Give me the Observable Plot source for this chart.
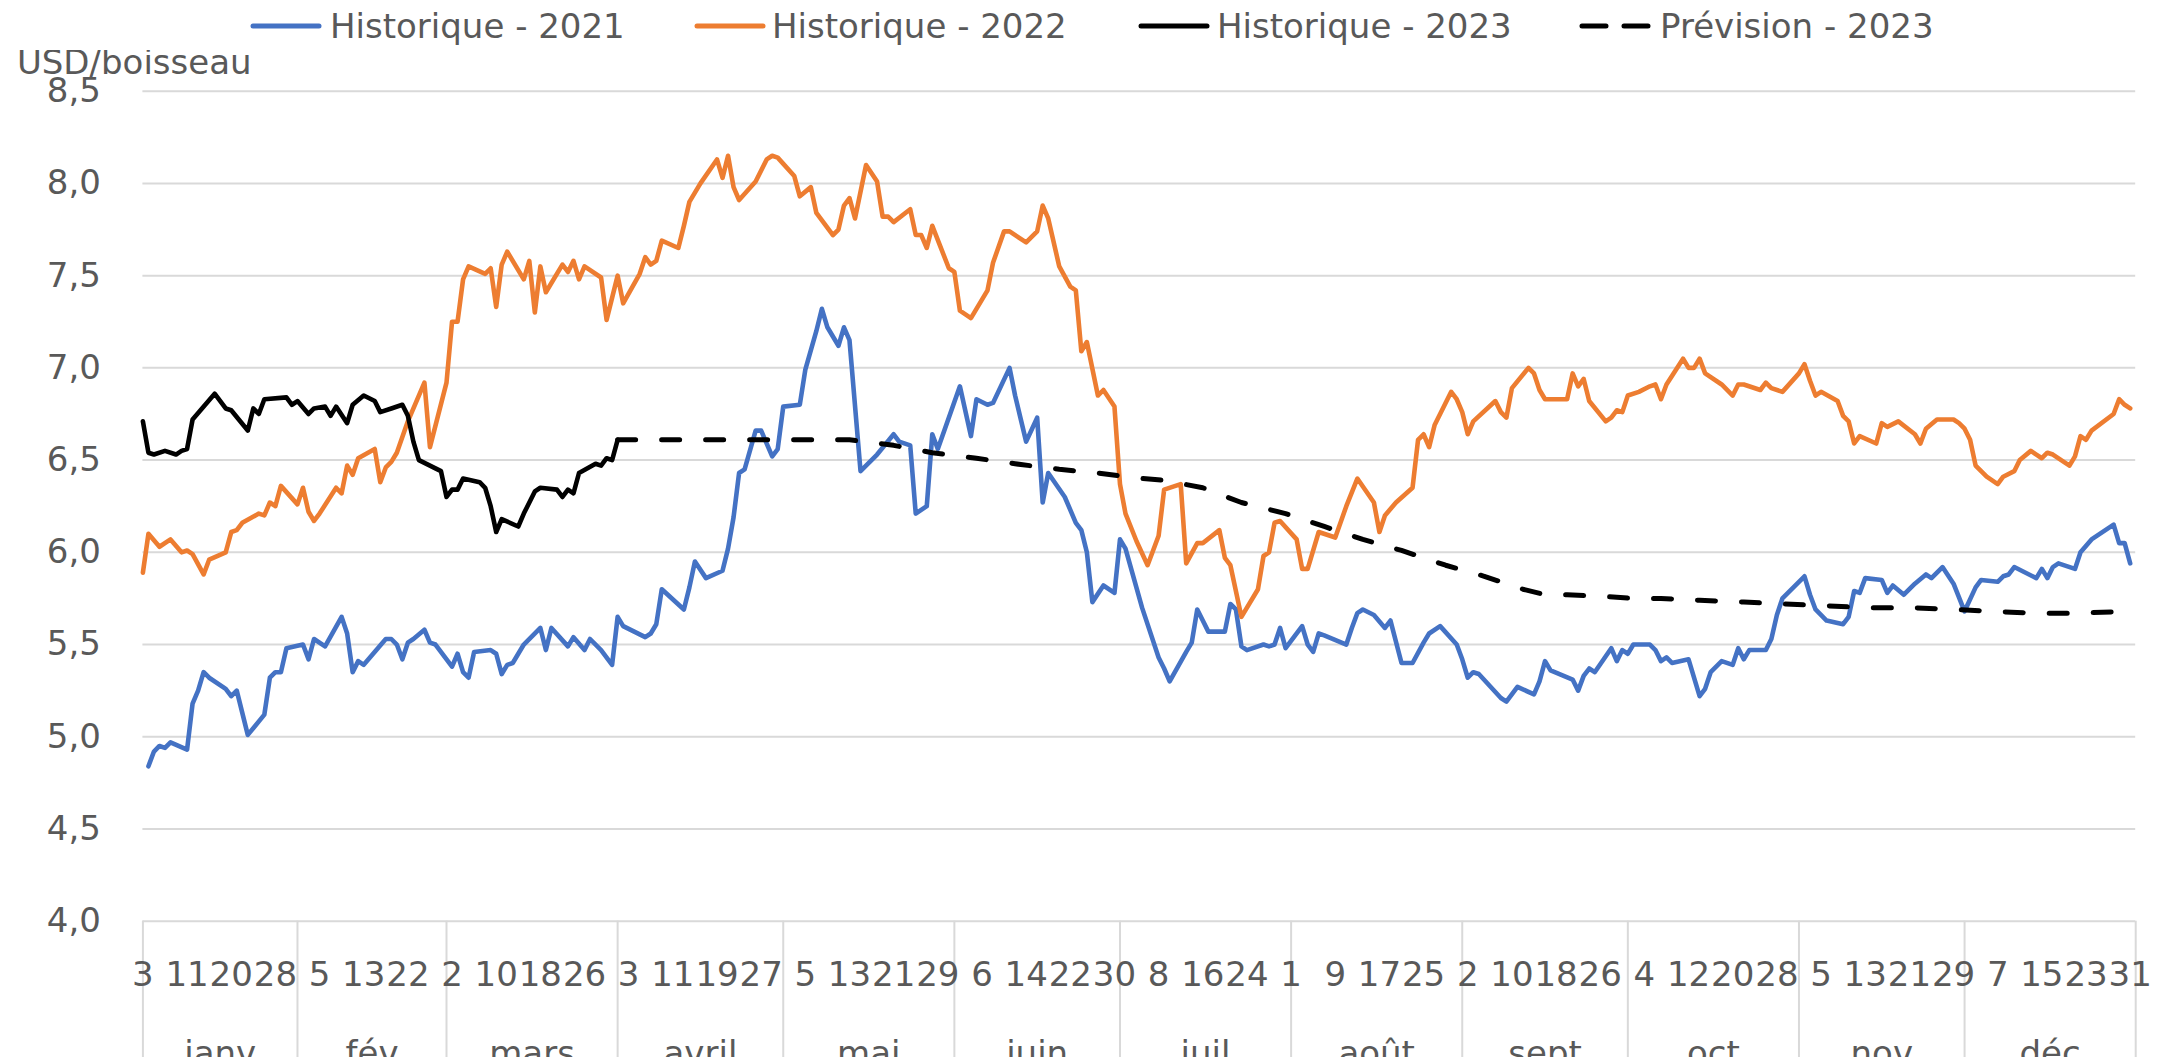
<!DOCTYPE html>
<html><head><meta charset="utf-8">
<script src="https://cdn.jsdelivr.net/npm/d3@7"></script>
<script src="https://cdn.jsdelivr.net/npm/@observablehq/plot@0.6"></script>
<style>
body{margin:0;background:#fff;font-family:"DejaVu Sans",sans-serif;}
#chart svg{display:block}
</style></head><body>
<div id="chart"></div>
<script>
// ---- categories: one per calendar day, 3 janv. -> 31 déc. (two market holidays absent)
const missingDays = ["2023-01-16", "2023-02-20"];
const monthNames = ["janv", "fév", "mars", "avril", "mai", "juin", "juil", "août", "sept", "oct", "nov", "déc"];
const yTicks = [4, 4.5, 5, 5.5, 6, 6.5, 7, 7.5, 8, 8.5];
const seriesNames = ["Historique - 2021", "Historique - 2022", "Historique - 2023", "Prévision - 2023"];
const seriesColors = ["#4472C4", "#ED7D31", "#000000", "#000000"];

// ---- series: [category index (0 = 3 janv.), USD/boisseau]
const hist2021 = [[1,4.84],[2,4.92],[3,4.95],[4,4.94],[5,4.97],[8,4.93],[9,5.18],[10,5.25],[11,5.35],[12,5.32],[15,5.26],[16,5.22],[17,5.25],[19,5.01],[22,5.12],[23,5.32],[24,5.35],[25,5.35],[26,5.48],[29,5.50],[30,5.42],[31,5.53],[33,5.49],[36,5.65],[37,5.56],[38,5.35],[39,5.41],[40,5.39],[44,5.53],[45,5.53],[46,5.50],[47,5.42],[48,5.51],[49,5.53],[51,5.58],[52,5.51],[53,5.50],[56,5.38],[57,5.45],[58,5.35],[59,5.32],[60,5.46],[63,5.47],[64,5.45],[65,5.34],[66,5.39],[67,5.40],[69,5.50],[72,5.59],[73,5.47],[74,5.59],[77,5.49],[78,5.54],[80,5.47],[81,5.53],[83,5.47],[85,5.39],[86,5.65],[87,5.60],[91,5.54],[92,5.56],[93,5.61],[94,5.80],[98,5.69],[99,5.81],[100,5.95],[102,5.86],[105,5.90],[106,6.02],[107,6.19],[108,6.43],[109,6.45],[111,6.66],[112,6.66],[114,6.52],[115,6.56],[116,6.79],[119,6.80],[120,6.99],[122,7.20],[123,7.32],[124,7.22],[126,7.12],[127,7.22],[128,7.15],[130,6.44],[133,6.53],[136,6.64],[137,6.60],[139,6.58],[140,6.21],[142,6.25],[143,6.64],[144,6.56],[148,6.90],[150,6.63],[151,6.83],[153,6.80],[154,6.81],[157,7.00],[158,6.85],[160,6.60],[162,6.73],[163,6.27],[164,6.43],[167,6.30],[169,6.16],[170,6.12],[171,6.00],[172,5.73],[174,5.82],[176,5.78],[177,6.07],[178,6.02],[181,5.70],[184,5.43],[185,5.37],[186,5.30],[189,5.46],[190,5.51],[191,5.69],[192,5.63],[193,5.57],[196,5.57],[197,5.72],[198,5.69],[199,5.49],[200,5.47],[203,5.50],[204,5.49],[205,5.50],[206,5.59],[207,5.48],[210,5.60],[211,5.50],[212,5.46],[213,5.56],[214,5.55],[218,5.50],[219,5.59],[220,5.67],[221,5.69],[223,5.66],[225,5.59],[226,5.63],[228,5.40],[230,5.40],[232,5.51],[233,5.56],[235,5.60],[238,5.50],[239,5.42],[240,5.32],[241,5.35],[242,5.34],[246,5.21],[247,5.19],[249,5.27],[252,5.23],[253,5.30],[254,5.41],[255,5.36],[259,5.31],[260,5.25],[261,5.33],[262,5.37],[263,5.35],[266,5.48],[267,5.41],[268,5.47],[269,5.45],[270,5.50],[273,5.50],[274,5.47],[275,5.41],[276,5.43],[277,5.40],[280,5.42],[282,5.22],[283,5.26],[284,5.35],[286,5.41],[288,5.39],[289,5.48],[290,5.42],[291,5.47],[294,5.47],[295,5.53],[296,5.66],[297,5.75],[301,5.87],[302,5.77],[303,5.69],[305,5.63],[308,5.61],[309,5.65],[310,5.79],[311,5.78],[312,5.86],[315,5.85],[316,5.78],[317,5.82],[319,5.77],[321,5.83],[323,5.88],[324,5.86],[326,5.92],[328,5.83],[330,5.68],[332,5.81],[333,5.85],[336,5.84],[337,5.87],[338,5.88],[339,5.92],[343,5.86],[344,5.91],[345,5.86],[346,5.92],[347,5.94],[350,5.91],[351,6.00],[353,6.07],[357,6.15],[358,6.05],[359,6.05],[360,5.94]];

const hist2022 = [[0,5.89],[1,6.10],[3,6.03],[5,6.07],[7,6.00],[8,6.01],[9,5.99],[11,5.88],[12,5.96],[15,6.00],[16,6.11],[17,6.12],[18,6.16],[21,6.21],[22,6.20],[23,6.27],[24,6.25],[25,6.36],[28,6.26],[29,6.35],[30,6.22],[31,6.17],[32,6.21],[35,6.35],[36,6.32],[37,6.47],[38,6.42],[39,6.51],[42,6.56],[43,6.38],[44,6.46],[45,6.49],[46,6.54],[48,6.71],[51,6.92],[52,6.57],[55,6.92],[56,7.25],[57,7.25],[58,7.48],[59,7.55],[62,7.51],[63,7.54],[64,7.33],[65,7.56],[66,7.63],[69,7.48],[70,7.58],[71,7.30],[72,7.55],[73,7.41],[76,7.56],[77,7.52],[78,7.58],[79,7.48],[80,7.55],[83,7.49],[84,7.26],[86,7.50],[87,7.35],[90,7.51],[91,7.60],[92,7.56],[93,7.58],[94,7.69],[97,7.65],[98,7.77],[99,7.90],[101,8.00],[104,8.13],[105,8.03],[106,8.15],[107,7.98],[108,7.91],[111,8.01],[113,8.13],[114,8.15],[115,8.14],[118,8.04],[119,7.93],[121,7.98],[122,7.84],[125,7.72],[126,7.75],[127,7.88],[128,7.92],[129,7.81],[131,8.10],[133,8.01],[134,7.82],[135,7.82],[136,7.79],[139,7.86],[140,7.72],[141,7.72],[142,7.65],[143,7.77],[146,7.54],[147,7.52],[148,7.31],[150,7.27],[153,7.42],[154,7.57],[156,7.74],[157,7.74],[160,7.68],[162,7.74],[163,7.88],[164,7.81],[166,7.55],[168,7.44],[169,7.42],[170,7.09],[171,7.14],[173,6.85],[174,6.88],[176,6.79],[177,6.37],[178,6.21],[180,6.06],[182,5.93],[184,6.09],[185,6.34],[188,6.37],[189,5.94],[191,6.05],[192,6.05],[195,6.12],[196,5.97],[197,5.93],[199,5.65],[202,5.80],[203,5.98],[204,6.00],[205,6.16],[206,6.17],[209,6.07],[210,5.91],[211,5.91],[213,6.11],[216,6.08],[218,6.25],[220,6.40],[223,6.27],[224,6.11],[225,6.20],[227,6.27],[230,6.35],[231,6.61],[232,6.64],[233,6.57],[234,6.69],[237,6.87],[238,6.83],[239,6.76],[240,6.64],[241,6.71],[245,6.82],[246,6.76],[247,6.73],[248,6.89],[251,7.00],[252,6.97],[253,6.88],[254,6.83],[258,6.83],[259,6.97],[260,6.90],[261,6.94],[262,6.82],[265,6.71],[266,6.73],[267,6.77],[268,6.76],[269,6.85],[271,6.87],[273,6.90],[274,6.91],[275,6.83],[276,6.91],[279,7.05],[280,7.00],[281,7.00],[282,7.05],[283,6.97],[286,6.91],[288,6.85],[289,6.91],[290,6.91],[293,6.88],[294,6.92],[295,6.89],[297,6.87],[300,6.97],[301,7.02],[302,6.93],[303,6.85],[304,6.87],[307,6.82],[308,6.74],[309,6.71],[310,6.59],[311,6.63],[314,6.59],[315,6.70],[316,6.68],[318,6.71],[321,6.64],[322,6.59],[323,6.67],[325,6.72],[328,6.72],[329,6.70],[330,6.67],[331,6.61],[332,6.47],[334,6.41],[336,6.37],[337,6.41],[339,6.44],[340,6.50],[342,6.55],[343,6.53],[344,6.51],[345,6.54],[346,6.53],[349,6.47],[350,6.52],[351,6.63],[352,6.61],[353,6.66],[357,6.75],[358,6.83],[359,6.80],[360,6.78]];

const hist2023 = [[0,6.71],[1,6.54],[2,6.53],[4,6.55],[6,6.53],[7,6.55],[8,6.56],[9,6.72],[13,6.86],[15,6.78],[16,6.77],[19,6.66],[20,6.78],[21,6.75],[22,6.83],[26,6.84],[27,6.80],[28,6.82],[30,6.75],[31,6.78],[33,6.79],[34,6.74],[35,6.79],[37,6.70],[38,6.80],[40,6.85],[42,6.82],[43,6.76],[45,6.78],[47,6.80],[48,6.74],[49,6.60],[50,6.50],[54,6.44],[55,6.30],[56,6.34],[57,6.34],[58,6.40],[61,6.38],[62,6.35],[63,6.25],[64,6.11],[65,6.18],[68,6.14],[69,6.21],[71,6.33],[72,6.35],[75,6.34],[76,6.30],[77,6.34],[78,6.32],[79,6.43],[82,6.48],[83,6.47],[84,6.51],[85,6.50],[86,6.61]];

const prev2023 = [[86,6.61],[128,6.61],[136,6.58],[143,6.54],[151,6.51],[158,6.48],[166,6.45],[173,6.43],[181,6.40],[185,6.39],[192,6.35],[199,6.27],[207,6.21],[214,6.14],[221,6.07],[228,6.01],[236,5.93],[243,5.87],[250,5.80],[254,5.77],[258,5.77],[265,5.76],[270,5.75],[275,5.75],[282,5.74],[290,5.73],[297,5.72],[305,5.71],[312,5.70],[320,5.70],[328,5.69],[335,5.68],[343,5.67],[350,5.67],[360,5.68]];

// ---- build categories
const categories = [];
for (let d = new Date(Date.UTC(2023, 0, 3)); d <= new Date(Date.UTC(2023, 11, 31)); d.setUTCDate(d.getUTCDate() + 1)) {
  const s = d.toISOString().slice(0, 10);
  if (!missingDays.includes(s)) categories.push(s);
}
const nCat = categories.length; // 361
const monthStarts = [0];
categories.forEach((c, i) => { if (i > 0 && c.slice(8) === "01") monthStarts.push(i); });
const monthBounds = [...monthStarts, nCat];
const monthMids = monthStarts.map((s, k) => (s + monthBounds[k + 1]) / 2);
const dayTicks = d3.range(0, nCat, 8);

const fmt = v => v.toFixed(1).replace(".", ",");
const gray = "#595959";
const FONT = "'DejaVu Sans', sans-serif";
const FS = 34;

// ---- legend
const legend = d3.create("svg").attr("width", 2182).attr("height", 50)
  .style("font-family", FONT);
const legendLineX = [251, 695, 1139, 1580];
const legendTextX = [330, 772, 1217, 1660];
seriesNames.forEach((name, k) => {
  const g = legend.append("g").attr("transform", "translate(0,26)");
  g.append("line").attr("x1", legendLineX[k] + 2).attr("x2", legendLineX[k] + 68).attr("stroke", seriesColors[k])
    .attr("stroke-width", 5).attr("stroke-linecap", "round")
    .attr("stroke-dasharray", k === 3 ? "24,18" : null);
  g.append("text").attr("x", legendTextX[k]).attr("dy", "0.36em").attr("font-size", FS)
    .attr("fill", gray).text(name);
});
document.getElementById("chart").append(legend.node());

// ---- plot
const line = (data, k, extra = {}) => Plot.line(data, {
  x: d => d[0], y: d => d[1], stroke: seriesColors[k], strokeWidth: 4.6,
  strokeLinejoin: "round", strokeLinecap: "round", ...extra
});

const chart = Plot.plot({
  width: 2182, height: 1007,
  marginLeft: 142.4, marginRight: 46.8, marginTop: 40.7, marginBottom: 136.3,
  style: {fontFamily: FONT, fontSize: FS + "px", color: gray, background: "white"},
  x: {type: "linear", domain: [0, nCat]},
  y: {domain: [4, 8.5]},
  marks: [
    Plot.gridY(yTicks, {stroke: "#d9d9d9", strokeOpacity: 1, strokeWidth: 2}),
    Plot.axisY(yTicks, {tickSize: 0, tickPadding: 42, tickFormat: fmt, fontSize: FS, fill: gray, label: null}),
    Plot.axisX(monthBounds, {tickSize: 145, stroke: "#d9d9d9", strokeWidth: 2, tickFormat: () => "", label: null}),
    Plot.axisX(dayTicks, {tickSize: 0, tickPadding: 41, fontSize: FS, fill: gray, label: null,
      tickFormat: i => String(+categories[i].slice(8))}),
    Plot.axisX(monthMids, {tickSize: 0, tickPadding: 120, fontSize: FS, fill: gray, label: null,
      tickFormat: (m, k) => monthNames[k]}),
    Plot.text(["USD/boisseau"], {frameAnchor: "top-left", dx: -126, dy: -28, textAnchor: "start",
      lineAnchor: "middle", fontSize: FS, fill: gray}),
    line(hist2021, 0),
    line(hist2022, 1),
    line(hist2023, 2),
    line(prev2023, 3, {strokeDasharray: "18,26", strokeWidth: 5})
  ]
});
document.getElementById("chart").append(chart);
</script></body></html>
